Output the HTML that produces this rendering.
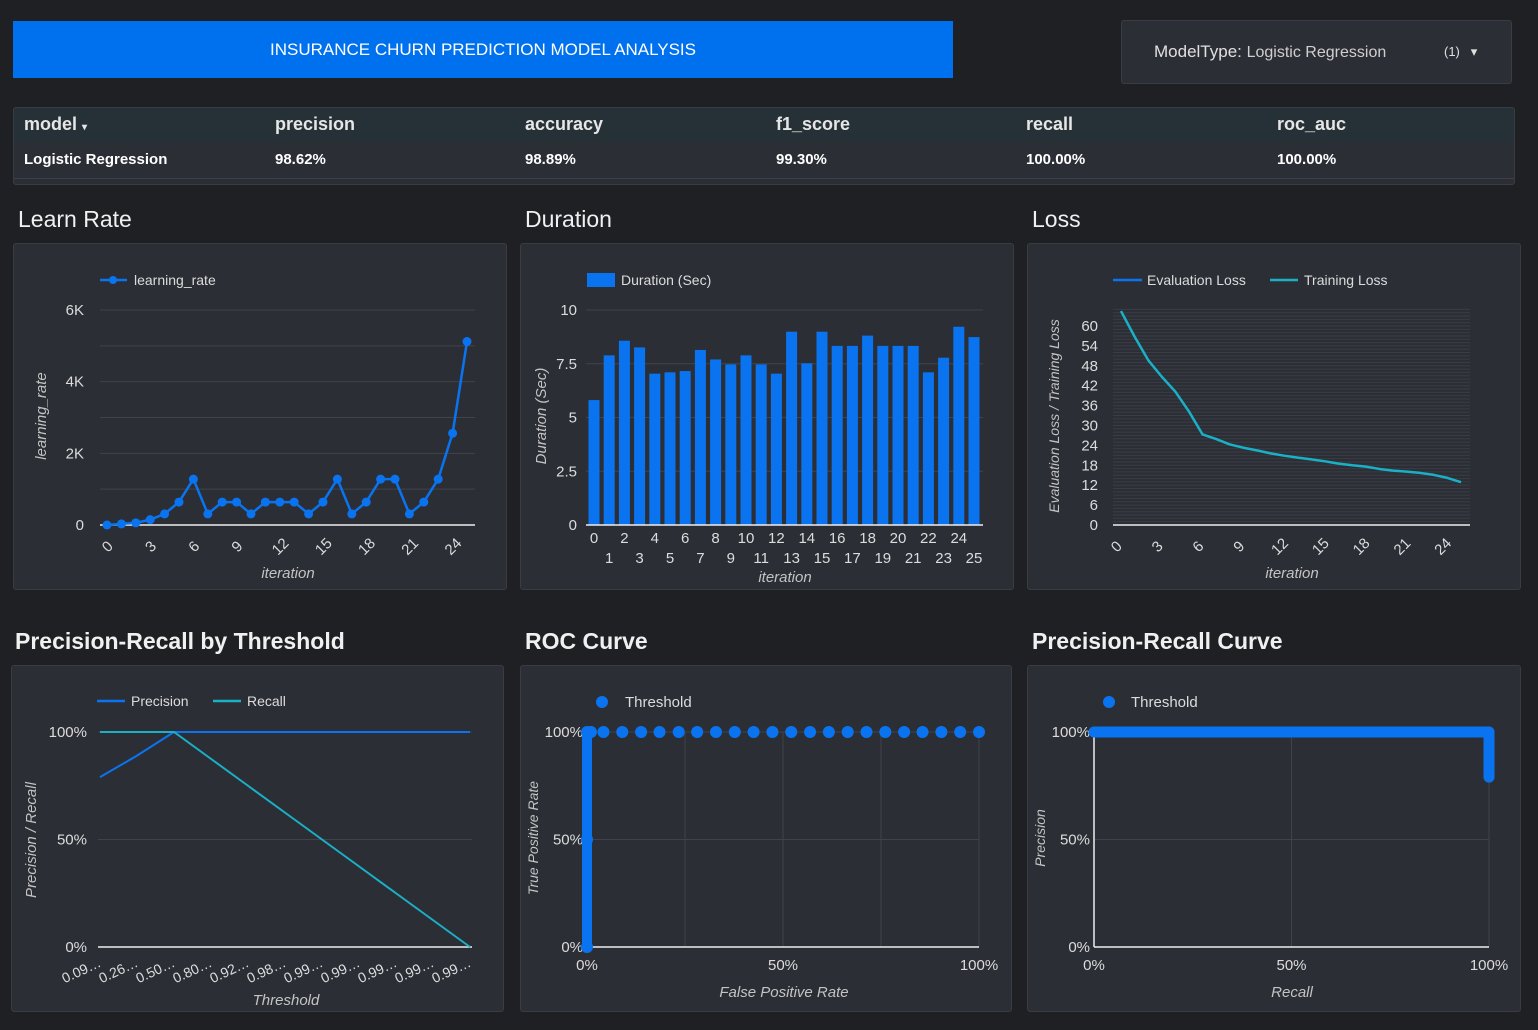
<!DOCTYPE html>
<html><head><meta charset="utf-8"><style>
body{margin:0;width:1538px;height:1030px;background:#1f2024;font-family:"Liberation Sans",sans-serif;overflow:hidden;position:relative;color:#e8e8e8}
.abs{position:absolute}
.panel{position:absolute;background:#2c2e36;border:1px solid #3a3c44;border-radius:3px;box-sizing:border-box}
.title{position:absolute;font-size:23px;color:#f0f0f0}
.th{position:absolute;font-size:18px;font-weight:bold;color:#e6e6e6;top:114px}
.td{position:absolute;font-size:15px;font-weight:bold;color:#fff;top:151px}
svg text{font-family:"Liberation Sans",sans-serif}
</style></head><body>
<div class="abs" style="left:13px;top:21px;width:940px;height:57px;background:#0071ee;color:#fff;font-size:17px;line-height:57px;text-align:center">INSURANCE CHURN PREDICTION MODEL ANALYSIS</div>
<div class="abs" style="left:1121px;top:20px;width:391px;height:64px;background:#2c2e36;border:1px solid #3a3c44;border-radius:3px;box-sizing:border-box;font-size:17px;line-height:62px;color:#e0e0e0"><span style="position:absolute;left:32px">ModelType: <span style="font-size:16px;color:#cfcfcf">Logistic Regression</span></span><span style="position:absolute;left:322px;font-size:13px">(1) &nbsp;&nbsp;▾</span></div>
<div class="abs" style="left:13px;top:107px;width:1502px;height:78px;background:#2c2e36;border:1px solid #3a3c44;border-radius:3px;box-sizing:border-box;overflow:hidden"><div style="height:34px;background:#263037"></div><div style="position:absolute;left:0;right:0;top:70px;height:1px;background:#3d4048"></div></div>
<div class="th" style="left:24px">model <span style="font-size:10px">▾</span></div>
<div class="th" style="left:275px">precision</div>
<div class="th" style="left:525px">accuracy</div>
<div class="th" style="left:776px">f1_score</div>
<div class="th" style="left:1026px">recall</div>
<div class="th" style="left:1277px">roc_auc</div>
<div class="td" style="left:24px">Logistic Regression</div>
<div class="td" style="left:275px">98.62%</div>
<div class="td" style="left:525px">98.89%</div>
<div class="td" style="left:776px">99.30%</div>
<div class="td" style="left:1026px">100.00%</div>
<div class="td" style="left:1277px">100.00%</div>

<div class="title" style="left:18px;top:206px">Learn Rate</div>
<div class="title" style="left:525px;top:206px">Duration</div>
<div class="title" style="left:1032px;top:206px">Loss</div>
<div class="title" style="left:15px;top:628px;font-weight:bold">Precision-Recall by Threshold</div>
<div class="title" style="left:525px;top:628px;font-weight:bold">ROC Curve</div>
<div class="title" style="left:1032px;top:628px;font-weight:bold">Precision-Recall Curve</div>

<div class="panel" style="left:13px;top:243px;width:494px;height:347px"></div>
<div class="panel" style="left:520px;top:243px;width:494px;height:347px"></div>
<div class="panel" style="left:1027px;top:243px;width:494px;height:347px"></div>
<div class="panel" style="left:11px;top:665px;width:493px;height:347px"></div>
<div class="panel" style="left:520px;top:665px;width:492px;height:347px"></div>
<div class="panel" style="left:1027px;top:665px;width:494px;height:347px"></div>

<svg id="svg" class="abs" style="left:0;top:0" width="1538" height="1030"></svg>
<script>
// Learn rate
const lrIter=[0,1,2,3,4,5,6,7,8,9,10,11,12,13,14,15,16,17,18,19,20,21,22,23,24,25];
const lrValues=[0,30,60,150,310,640,1280,310,640,640,310,640,640,640,310,640,1280,310,640,1280,1280,310,640,1280,2560,5120];
const lrYTicks=[0,2000,4000,6000];
const lrYTickLabels=["0","2K","4K","6K"];
const lrXTicks=[0,3,6,9,12,15,18,21,24];
// Duration
const durIter=[0,1,2,3,4,5,6,7,8,9,10,11,12,13,14,15,16,17,18,19,20,21,22,23,24,25];
const durValues=[5.81,7.89,8.57,8.26,7.04,7.1,7.16,8.14,7.7,7.47,7.89,7.47,7.04,8.99,7.52,8.99,8.33,8.33,8.81,8.33,8.33,8.33,7.1,7.78,9.22,8.74];
const durYTicks=[0,2.5,5,7.5,10];
// Loss
const lossIter=[0,1,2,3,4,5,6,7,8,9,10,11,12,13,14,15,16,17,18,19,20,21,22,23,24,25];
const trainLoss=[64.5,56.8,49.7,44.7,40.2,34.2,27.3,25.9,24.3,23.3,22.5,21.6,20.9,20.3,19.8,19.2,18.5,18,17.6,16.9,16.4,16.1,15.7,15.1,14.2,12.9];
const lossYTicks=[0,6,12,18,24,30,36,42,48,54,60];
const lossXTicks=[0,3,6,9,12,15,18,21,24];
// PR by threshold
const thrLabels=["0.09…","0.26…","0.50…","0.80…","0.92…","0.98…","0.99…","0.99…","0.99…","0.99…","0.99…"];
const thrPrecision=[0.79,0.89,1,1,1,1,1,1,1,1,1];
const thrRecall=[1,1,1,0.875,0.75,0.625,0.5,0.375,0.25,0.125,0];
// ROC
const rocFpr=[0,0,0,0.01,0.042,0.09,0.138,0.185,0.234,0.281,0.329,0.377,0.425,0.473,0.521,0.569,0.617,0.665,0.713,0.761,0.809,0.856,0.904,0.952,1];
const rocTpr=[0,0.5,1,1,1,1,1,1,1,1,1,1,1,1,1,1,1,1,1,1,1,1,1,1,1];
// PR curve
const prRecall=[0,0.25,0.5,0.75,1,1,1];
const prPrecision=[1,1,1,1,1,0.9,0.79];
const pctTicks=[0,0.5,1];
const pctLabels=["0%","50%","100%"];

const S=document.getElementById('svg');const NS='http://www.w3.org/2000/svg';
function el(t,a,txt){const e=document.createElementNS(NS,t);for(const k in a)e.setAttribute(k,a[k]);if(txt!==undefined)e.textContent=txt;S.appendChild(e);return e;}
function lin(d0,d1,r0,r1){return v=>r0+(v-d0)/(d1-d0)*(r1-r0);}
const BLUE='#0a74f0',CYAN='#1ab0c6',GRID='#41434b',LBL='#dcdcdc',TTL='#c4c4c4';
function txt(x,y,s,o){o=o||{};const e=el('text',Object.assign({x:x,y:y,fill:o.fill||LBL,'font-size':o.size||15,'text-anchor':o.anchor||'start'},o.extra||{}),s);


if(o.rot!==undefined)e.setAttribute('transform','rotate('+o.rot+' '+x+' '+y+')');if(o.italic)e.setAttribute('font-style','italic');return e;}
function line(x1,y1,x2,y2,c,w,name){const e=el('line',{x1,y1,x2,y2,stroke:c,'stroke-width':w||1});

return e;}

// ---- Learn rate
{const x=lin(0,25,107,467),y=lin(0,6000,525,310);
for(let v=1000;v<=6000;v+=1000)line(100,y(v),475,y(v),GRID,1);
line(100,525,475,525,'#eee',1.5,'x-axis');
lrYTicks.forEach((v,i)=>txt(84,y(v)+5,lrYTickLabels[i],{anchor:'end',name:'y-tick-label'}));
lrXTicks.forEach(v=>txt(x(v)+4,550,String(v),{anchor:'middle',rot:-45,name:'x-tick-label'}));
txt(46,416,'learning_rate',{rot:-90,anchor:'middle',italic:1,fill:TTL,name:'y-axis-title'});
txt(288,578,'iteration',{anchor:'middle',italic:1,fill:TTL,name:'x-axis-title'});
line(100,280,127,280,BLUE,2.5,'legend-line');el('circle',{cx:113,cy:280,r:4,fill:BLUE});txt(134,285,'learning_rate',{size:14,name:'legend-entry'});
const p=el('path',{d:lrValues.map((v,i)=>(i?'L':'M')+x(lrIter[i])+' '+y(v)).join(' '),fill:'none',stroke:BLUE,'stroke-width':2.5});


lrValues.forEach((v,i)=>{const c=el('circle',{cx:x(lrIter[i]),cy:y(v),r:4.5,fill:BLUE});

});}

// ---- Duration
{const x=lin(0,25,594,974),y=lin(0,10,525,310);
durYTicks.forEach(v=>{if(v>0)line(586,y(v),983,y(v),GRID,1);txt(577,y(v)+5,String(v),{anchor:'end',name:'y-tick-label'});});
durValues.forEach((v,i)=>{const r=el('rect',{x:x(durIter[i])-5.5,y:y(v),width:11,height:y(0)-y(v),fill:BLUE});


txt(x(durIter[i]),i%2?563:543,String(durIter[i]),{anchor:'middle',name:'x-tick-label'});});
line(586,525,983,525,'#eee',1.5,'x-axis');
txt(546,416,'Duration (Sec)',{rot:-90,anchor:'middle',italic:1,fill:TTL,name:'y-axis-title'});
txt(785,582,'iteration',{anchor:'middle',italic:1,fill:TTL,name:'x-axis-title'});
const lr=el('rect',{x:587,y:273,width:28,height:14,fill:BLUE});
txt(621,285,'Duration (Sec)',{size:14,name:'legend-entry'});}

// ---- Loss
{const x=lin(0,25,1121,1461),y=lin(0,60,525,326);
for(let v=1;v<=65;v++)line(1113,y(v),1470,y(v),'#3a3d45',1);
line(1113,525,1470,525,'#eee',1.5,'x-axis');
lossYTicks.forEach(v=>txt(1098,y(v)+5,String(v),{anchor:'end',name:'y-tick-label'}));
lossXTicks.forEach(v=>txt(x(v)-1,550,String(v),{anchor:'middle',rot:-45,name:'x-tick-label'}));
txt(1059,416,'Evaluation Loss  /  Training Loss',{rot:-90,anchor:'middle',italic:1,fill:TTL,size:14,name:'y-axis-title'});
txt(1292,578,'iteration',{anchor:'middle',italic:1,fill:TTL,name:'x-axis-title'});
line(1113,280,1142,280,BLUE,2.5,'legend-line');txt(1147,285,'Evaluation Loss',{size:14,name:'legend-entry'});
line(1270,280,1298,280,CYAN,2.5,'legend-line');txt(1304,285,'Training Loss',{size:14,name:'legend-entry'});
const p=el('path',{d:trainLoss.map((v,i)=>(i?'L':'M')+x(lossIter[i])+' '+y(v)).join(' '),fill:'none',stroke:CYAN,'stroke-width':2.5,'stroke-linejoin':'round'});

}

// ---- PR by threshold
{const x=lin(0,10,100,470),y=lin(0,1,947,732);
line(98,y(0.5),472,y(0.5),GRID,1);line(98,y(1),472,y(1),GRID,1);line(98,947,472,947,'#eee',1.5,'x-axis');
pctTicks.forEach((v,i)=>txt(87,y(v)+5,pctLabels[i],{anchor:'end',name:'y-tick-label'}));
thrLabels.forEach((s,i)=>txt(x(i)+2,966,s,{anchor:'end',rot:-25,size:14,name:'x-tick-label'}));
txt(36,840,'Precision  /  Recall',{rot:-90,anchor:'middle',italic:1,fill:TTL,name:'y-axis-title'});
txt(286,1005,'Threshold',{anchor:'middle',italic:1,fill:TTL,name:'x-axis-title'});
line(97,701,125,701,BLUE,2.5,'legend-line');txt(131,706,'Precision',{size:14,name:'legend-entry'});
line(213,701,241,701,CYAN,2.5,'legend-line');txt(247,706,'Recall',{size:14,name:'legend-entry'});
const p1=el('path',{d:thrPrecision.map((v,i)=>(i?'L':'M')+x(i)+' '+y(v)).join(' '),fill:'none',stroke:BLUE,'stroke-width':2});

const p2=el('path',{d:thrRecall.map((v,i)=>(i?'L':'M')+x(i)+' '+y(v)).join(' '),fill:'none',stroke:CYAN,'stroke-width':2});
}

// ---- ROC
{const x=lin(0,1,587,979),y=lin(0,1,947,732);
[0.25,0.5,0.75,1].forEach(v=>line(x(v),732,x(v),947,GRID,1));
[0.5,1].forEach(v=>line(587,y(v),979,y(v),GRID,1));
line(587,947,979,947,'#eee',1.5,'x-axis');
pctTicks.forEach((v,i)=>{txt(583,y(v)+5,pctLabels[i],{anchor:'end',name:'y-tick-label'});txt(x(v),970,pctLabels[i],{anchor:'middle',name:'x-tick-label'});});
txt(538,838,'True Positive Rate',{rot:-90,anchor:'middle',italic:1,fill:TTL,size:14,name:'y-axis-title'});
txt(784,997,'False Positive Rate',{anchor:'middle',italic:1,fill:TTL,name:'x-axis-title'});
el('circle',{cx:602,cy:702,r:6,fill:BLUE});txt(625,707,'Threshold',{size:15,name:'legend-entry'});
const p=el('path',{d:rocFpr.slice(0,3).map((v,i)=>(i?'L':'M')+x(v)+' '+y(rocTpr[i])).join(' '),fill:'none',stroke:BLUE,'stroke-width':10,'stroke-linecap':'round'});

rocFpr.forEach((v,i)=>{const c=el('circle',{cx:x(v),cy:y(rocTpr[i]),r:6,fill:BLUE});

});}

// ---- PR curve
{const x=lin(0,1,1094,1489),y=lin(0,1,947,732);
[0.5,1].forEach(v=>line(x(v),732,x(v),947,GRID,1));
[0.5].forEach(v=>line(1094,y(v),1489,y(v),GRID,1));
line(1094,947,1489,947,'#eee',1.5,'x-axis');line(1094,732,1094,947,'#eee',1.5,'y-axis');
pctTicks.forEach((v,i)=>{txt(1090,y(v)+5,pctLabels[i],{anchor:'end',name:'y-tick-label'});txt(x(v),970,pctLabels[i],{anchor:'middle',name:'x-tick-label'});});
txt(1045,838,'Precision',{rot:-90,anchor:'middle',italic:1,fill:TTL,size:14,name:'y-axis-title'});
txt(1292,997,'Recall',{anchor:'middle',italic:1,fill:TTL,name:'x-axis-title'});
el('circle',{cx:1109,cy:702,r:6,fill:BLUE});txt(1131,707,'Threshold',{size:15,name:'legend-entry'});
const p=el('path',{d:prRecall.map((v,i)=>(i?'L':'M')+x(v)+' '+y(prPrecision[i])).join(' '),fill:'none',stroke:BLUE,'stroke-width':11,'stroke-linecap':'round','stroke-linejoin':'round'});
}
</script>
</body></html>
